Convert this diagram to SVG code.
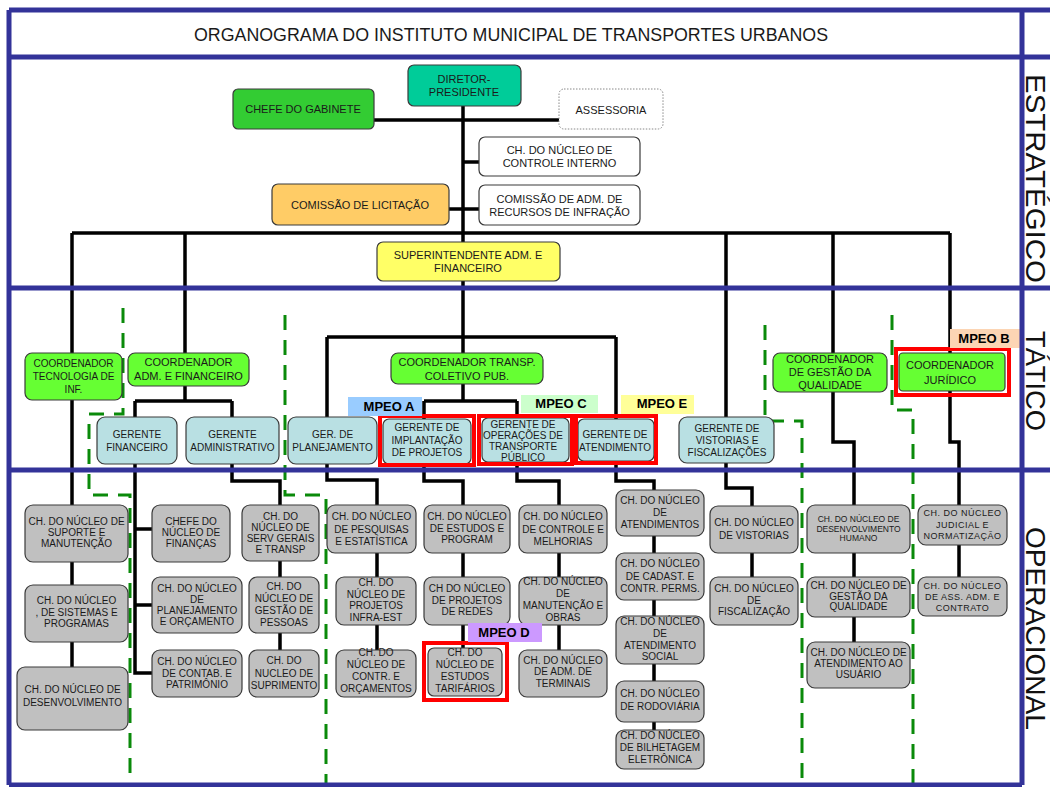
<svg xmlns="http://www.w3.org/2000/svg" width="1050" height="787" viewBox="0 0 1050 787">
<style>
text{font-family:"Liberation Sans",Arial,sans-serif;fill:#1a1a1a;text-anchor:middle}
.f11{font-size:11px}
.f10{font-size:10px}
.f9{font-size:9px;letter-spacing:0.5px}
.f85{font-size:8.5px}
.box{stroke:#3a3a3a;stroke-width:1.2}
.op{fill:#c0c0c0}
.gr{fill:#b9e0e3}
.co{fill:#66ff33}
.wh{fill:#fff}
.hl{fill:none;stroke:#ff0000;stroke-width:4}
.tag{font-size:13px;font-weight:bold;fill:#000}
.conn path{fill:none;stroke:#000;stroke-width:3.5}
.dash path{fill:none;stroke:#0a8a0a;stroke-width:3;stroke-dasharray:15 10}
.frame path{fill:none;stroke:#333399;stroke-width:5}
.side{font-size:27px;text-anchor:start;fill:#111}
</style>
<rect width="1050" height="787" fill="#fff"/>

<!-- reporting lines -->
<g id="connectors" class="conn">
<path d="M463,106V401"/>
<path d="M374,120H559"/>
<path d="M463,162H479"/>
<path d="M449,209H479"/>
<path d="M72,233H950"/>
<path d="M72,233V667"/>
<path d="M185,233V401M135,401H232M135,401V673H152M135,529H152M135,605H152"/>
<path d="M232,401V481H280V650"/>
<path d="M327,337H616"/>
<path d="M327,337V480H377V650"/>
<path d="M424,401H517"/>
<path d="M424,401V481H463V648"/>
<path d="M517,401V481H559V650"/>
<path d="M616,337V481H654V730"/>
<path d="M726,233V488H752V577"/>
<path d="M833,233V442H854V642"/>
<path d="M950,233V442H959V577"/>
</g>

<!-- dashed area boundaries -->
<g id="dividers" class="dash">
<path d="M123,308V414H89V495H130V785"/>
<path d="M285,315V495H326V785"/>
<path d="M765,325V421H802V785"/>
<path d="M892,315V410H913V785"/>
</g>

<!-- strategic level -->
<g id="diretor-presidente"><rect class="box" x="408" y="65" width="113" height="41" rx="6" fill="#00cc99"/><text class="f11"><tspan x="464" y="83">DIRETOR-</tspan><tspan x="464" y="96">PRESIDENTE</tspan></text></g>
<g id="chefe-gabinete"><rect class="box" x="233" y="89" width="141" height="40" rx="5" fill="#33cc33"/><text class="f11" x="303" y="113">CHEFE DO GABINETE</text></g>
<g id="assessoria"><rect x="559" y="89" width="104" height="40" rx="5" fill="#fff" stroke="#888" stroke-width="1" stroke-dasharray="1.5 1.5"/><text class="f11" x="611" y="114">ASSESSORIA</text></g>
<g id="controle-interno"><rect class="box wh" x="479" y="137" width="161" height="39" rx="6"/><text class="f11"><tspan x="559.5" y="154">CH. DO NÚCLEO DE</tspan><tspan x="559.5" y="167">CONTROLE INTERNO</tspan></text></g>
<g id="comissao-recursos"><rect class="box wh" x="479" y="185" width="161" height="40" rx="6"/><text class="f11"><tspan x="559.5" y="203">COMISSÃO DE ADM. DE</tspan><tspan x="559.5" y="216">RECURSOS DE INFRAÇÃO</tspan></text></g>
<g id="comissao-licitacao"><rect class="box" x="272" y="184" width="177" height="41" rx="6" fill="#ffcc66"/><text class="f11" x="360" y="209">COMISSÃO DE LICITAÇÃO</text></g>
<g id="superintendente"><rect class="box" x="377" y="242" width="183" height="39" rx="6" fill="#ffff66"/><text class="f11"><tspan x="468" y="259">SUPERINTENDENTE ADM. E</tspan><tspan x="468" y="272">FINANCEIRO</tspan></text></g>

<!-- tactical level -->
<g id="coord-tecnologia"><rect class="box co" x="25" y="353" width="97" height="47" rx="7"/><text class="f10"><tspan x="73.5" y="367">COORDENADOR</tspan><tspan x="73.5" y="380">TECNOLOGIA DE</tspan><tspan x="73.5" y="393">INF.</tspan></text></g>
<g id="coord-adm-fin"><rect class="box co" x="128" y="353" width="121" height="33" rx="7"/><text class="f11"><tspan x="188.5" y="366">COORDENADOR</tspan><tspan x="188.5" y="380">ADM. E FINANCEIRO</tspan></text></g>
<g id="coord-transporte"><rect class="box co" x="391" y="353" width="152" height="31" rx="7"/><text class="f11"><tspan x="467" y="366">COORDENADOR TRANSP.</tspan><tspan x="467" y="380">COLETIVO PUB.</tspan></text></g>
<g id="coord-qualidade"><rect class="box co" x="773" y="353" width="114" height="39" rx="7"/><text class="f11"><tspan x="830" y="363">COORDENADOR</tspan><tspan x="830" y="376">DE GESTÃO DA</tspan><tspan x="830" y="389">QUALIDADE</tspan></text></g>
<g id="coord-juridico"><rect class="box co" x="899" y="353" width="106" height="38" rx="4"/><rect class="hl" x="896" y="349" width="113" height="46"/><text class="f11"><tspan x="950" y="369">COORDENADOR</tspan><tspan x="950" y="384">JURÍDICO</tspan></text></g>

<g id="gerente-financeiro"><rect class="box gr" x="97" y="417" width="80" height="47" rx="8"/><text class="f10"><tspan x="137" y="438">GERENTE</tspan><tspan x="137" y="451">FINANCEIRO</tspan></text></g>
<g id="gerente-administrativo"><rect class="box gr" x="186" y="417" width="93" height="47" rx="8"/><text class="f10"><tspan x="232.5" y="438">GERENTE</tspan><tspan x="232.5" y="451">ADMINISTRATIVO</tspan></text></g>
<g id="ger-planejamento"><rect class="box gr" x="288" y="417" width="89" height="47" rx="8"/><text class="f10"><tspan x="332.5" y="438">GER. DE</tspan><tspan x="332.5" y="451">PLANEJAMENTO</tspan></text></g>
<g id="gerente-implantacao"><rect class="box gr" x="383" y="419" width="88" height="45" rx="6"/><rect class="hl" x="380" y="416" width="94" height="49"/><text class="f10"><tspan x="427" y="431">GERENTE DE</tspan><tspan x="427" y="444">IMPLANTAÇÃO</tspan><tspan x="427" y="456">DE PROJETOS</tspan></text></g>
<g id="gerente-operacoes"><rect class="box gr" x="482" y="418" width="87" height="44" rx="6"/><rect class="hl" x="479" y="416" width="93" height="48"/><text class="f10"><tspan x="523" y="428">GERENTE DE</tspan><tspan x="523" y="439">OPERAÇÕES DE</tspan><tspan x="523" y="450">TRANSPORTE</tspan><tspan x="523" y="461">PÚBLICO</tspan></text></g>
<g id="gerente-atendimento"><rect class="box gr" x="578" y="419" width="76" height="42" rx="6"/><rect class="hl" x="576" y="416" width="80" height="47"/><text class="f10"><tspan x="615" y="438">GERENTE DE</tspan><tspan x="615" y="451">ATENDIMENTO</tspan></text></g>
<g id="gerente-vistorias"><rect class="box gr" x="679" y="417" width="95" height="46" rx="8"/><text class="f10"><tspan x="727" y="432">GERENTE DE</tspan><tspan x="727" y="444">VISTORIAS E</tspan><tspan x="727" y="456">FISCALIZAÇÕES</tspan></text></g>

<!-- operational level -->
<g id="nucleo-suporte"><rect class="box op" x="25" y="505" width="103" height="57" rx="8"/><text class="f10"><tspan x="76.5" y="525">CH. DO NÚCLEO DE</tspan><tspan x="76.5" y="536">SUPORTE E</tspan><tspan x="76.5" y="547">MANUTENÇÃO</tspan></text></g>
<g id="nucleo-sistemas"><rect class="box op" x="25" y="585" width="103" height="57" rx="8"/><text class="f10"><tspan x="76.5" y="604">CH. DO NÚCLEO</tspan><tspan x="76.5" y="616">, DE SISTEMAS E</tspan><tspan x="76.5" y="627">PROGRAMAS</tspan></text></g>
<g id="nucleo-desenvolvimento"><rect class="box op" x="17" y="667" width="111" height="63" rx="8"/><text class="f10"><tspan x="72.5" y="693">CH. DO NÚCLEO DE</tspan><tspan x="72.5" y="706">DESENVOLVIMENTO</tspan></text></g>

<g id="nucleo-financas"><rect class="box op" x="152" y="505" width="78" height="57" rx="8"/><text class="f10"><tspan x="191" y="525">CHEFE DO</tspan><tspan x="191" y="536">NÚCLEO DE</tspan><tspan x="191" y="547">FINANÇAS</tspan></text></g>
<g id="nucleo-planejamento"><rect class="box op" x="152" y="577" width="90" height="56" rx="8"/><text class="f10"><tspan x="197" y="592">CH. DO NÚCLEO</tspan><tspan x="197" y="603">DE</tspan><tspan x="197" y="614">PLANEJAMENTO</tspan><tspan x="197" y="625">E ORÇAMENTO</tspan></text></g>
<g id="nucleo-contabilidade"><rect class="box op" x="152" y="650" width="90" height="47" rx="8"/><text class="f10"><tspan x="197" y="665">CH. DO NÚCLEO</tspan><tspan x="197" y="677">DE CONTAB. E</tspan><tspan x="197" y="688">PATRIMÔNIO</tspan></text></g>

<g id="nucleo-servicos"><rect class="box op" x="242" y="505" width="77" height="56" rx="8"/><text class="f10"><tspan x="280.5" y="520">CH. DO</tspan><tspan x="280.5" y="531">NÚCLEO DE</tspan><tspan x="280.5" y="542">SERV GERAIS</tspan><tspan x="280.5" y="553">E TRANSP</tspan></text></g>
<g id="nucleo-pessoas"><rect class="box op" x="249" y="577" width="70" height="56" rx="8"/><text class="f10"><tspan x="284" y="590">CH. DO</tspan><tspan x="284" y="602">NÚCLEO DE</tspan><tspan x="284" y="614">GESTÃO DE</tspan><tspan x="284" y="626">PESSOAS</tspan></text></g>
<g id="nucleo-suprimento"><rect class="box op" x="249" y="650" width="70" height="47" rx="8"/><text class="f10"><tspan x="284" y="664">CH. DO</tspan><tspan x="284" y="677">NUCLEO DE</tspan><tspan x="284" y="689">SUPRIMENTO</tspan></text></g>

<g id="nucleo-pesquisas"><rect class="box op" x="327" y="505" width="89" height="48" rx="8"/><text class="f10"><tspan x="371.5" y="520">CH. DO NÚCLEO</tspan><tspan x="371.5" y="533">DE PESQUISAS</tspan><tspan x="371.5" y="545">E ESTATÍSTICA</tspan></text></g>
<g id="nucleo-infraestrutura"><rect class="box op" x="336" y="577" width="80" height="48" rx="8"/><text class="f10"><tspan x="376" y="586">CH. DO</tspan><tspan x="376" y="598">NÚCLEO DE</tspan><tspan x="376" y="609">PROJETOS</tspan><tspan x="376" y="621">INFRA-EST</tspan></text></g>
<g id="nucleo-orcamentos"><rect class="box op" x="336" y="650" width="80" height="47" rx="8"/><text class="f10"><tspan x="376" y="656">CH. DO</tspan><tspan x="376" y="668">NÚCLEO DE</tspan><tspan x="376" y="680">CONTR. E</tspan><tspan x="376" y="692">ORÇAMENTOS</tspan></text></g>

<g id="nucleo-estudos"><rect class="box op" x="424" y="505" width="86" height="48" rx="8"/><text class="f10"><tspan x="467" y="520">CH. DO NÚCLEO</tspan><tspan x="467" y="532">DE ESTUDOS E</tspan><tspan x="467" y="543">PROGRAM</tspan></text></g>
<g id="nucleo-redes"><rect class="box op" x="424" y="577" width="86" height="48" rx="8"/><text class="f10"><tspan x="467" y="592">CH DO NÚCLEO</tspan><tspan x="467" y="604">DE PROJETOS</tspan><tspan x="467" y="615">DE REDES</tspan></text></g>
<g id="nucleo-tarifarios"><rect class="box op" x="428" y="648" width="74" height="48" rx="6"/><rect class="hl" x="424" y="643" width="83" height="57"/><text class="f10"><tspan x="465" y="656">CH. DO</tspan><tspan x="465" y="668">NÚCLEO DE</tspan><tspan x="465" y="680">ESTUDOS</tspan><tspan x="465" y="692">TARIFÁRIOS</tspan></text></g>

<g id="nucleo-melhorias"><rect class="box op" x="519" y="505" width="88" height="48" rx="8"/><text class="f10"><tspan x="563" y="520">CH. DO NÚCLEO</tspan><tspan x="563" y="533">DE CONTROLE E</tspan><tspan x="563" y="545">MELHORIAS</tspan></text></g>
<g id="nucleo-obras"><rect class="box op" x="519" y="577" width="88" height="48" rx="8"/><text class="f10"><tspan x="563" y="585">CH. DO NÚCLEO</tspan><tspan x="563" y="597">DE</tspan><tspan x="563" y="609">MANUTENÇÃO E</tspan><tspan x="563" y="621">OBRAS</tspan></text></g>
<g id="nucleo-terminais"><rect class="box op" x="519" y="650" width="88" height="47" rx="8"/><text class="f10"><tspan x="563" y="664">CH. DO NÚCLEO</tspan><tspan x="563" y="675">DE ADM. DE</tspan><tspan x="563" y="687">TERMINAIS</tspan></text></g>

<g id="nucleo-atendimentos"><rect class="box op" x="616" y="490" width="88" height="46" rx="8"/><text class="f10"><tspan x="660" y="504">CH. DO NÚCLEO</tspan><tspan x="660" y="516">DE</tspan><tspan x="660" y="528">ATENDIMENTOS</tspan></text></g>
<g id="nucleo-cadastro"><rect class="box op" x="616" y="553" width="88" height="47" rx="8"/><text class="f10"><tspan x="660" y="567">CH. DO NÚCLEO</tspan><tspan x="660" y="580">DE CADAST. E</tspan><tspan x="660" y="592">CONTR. PERMS.</tspan></text></g>
<g id="nucleo-social"><rect class="box op" x="616" y="616" width="88" height="48" rx="8"/><text class="f10"><tspan x="660" y="625">CH. DO NÚCLEO</tspan><tspan x="660" y="637">DE</tspan><tspan x="660" y="649">ATENDIMENTO</tspan><tspan x="660" y="660">SOCIAL</tspan></text></g>
<g id="nucleo-rodoviaria"><rect class="box op" x="616" y="681" width="88" height="41" rx="8"/><text class="f10"><tspan x="660" y="697">CH. DO NÚCLEO</tspan><tspan x="660" y="710">DE RODOVIÁRIA</tspan></text></g>
<g id="nucleo-bilhetagem"><rect class="box op" x="616" y="730" width="88" height="39" rx="8"/><text class="f10"><tspan x="660" y="739">CH. DO NÚCLEO</tspan><tspan x="660" y="751">DE BILHETAGEM</tspan><tspan x="660" y="763">ELETRÔNICA</tspan></text></g>

<g id="nucleo-vistorias"><rect class="box op" x="710" y="506" width="88" height="47" rx="8"/><text class="f10"><tspan x="754" y="526">CH. DO NÚCLEO</tspan><tspan x="754" y="539">DE VISTORIAS</tspan></text></g>
<g id="nucleo-fiscalizacao"><rect class="box op" x="710" y="577" width="88" height="48" rx="8"/><text class="f10"><tspan x="754" y="592">CH. DO NÚCLEO</tspan><tspan x="754" y="604">DE</tspan><tspan x="754" y="615">FISCALIZAÇÃO</tspan></text></g>

<g id="nucleo-desenv-humano"><rect class="box op" x="807" y="505" width="103" height="48" rx="8"/><text class="f85"><tspan x="858.5" y="522">CH. DO NÚCLEO DE</tspan><tspan x="858.5" y="532">DESENVOLVIMENTO</tspan><tspan x="858.5" y="541">HUMANO</tspan></text></g>
<g id="nucleo-gestao-qualidade"><rect class="box op" x="807" y="577" width="103" height="40" rx="8"/><text class="f10"><tspan x="858.5" y="589">CH. DO NÚCLEO DE</tspan><tspan x="858.5" y="600">GESTÃO DA</tspan><tspan x="858.5" y="610">QUALIDADE</tspan></text></g>
<g id="nucleo-usuario"><rect class="box op" x="807" y="642" width="103" height="46" rx="8"/><text class="f10"><tspan x="858.5" y="656">CH. DO NÚCLEO DE</tspan><tspan x="858.5" y="667">ATENDIMENTO AO</tspan><tspan x="858.5" y="678">USUÁRIO</tspan></text></g>

<g id="nucleo-judicial"><rect class="box op" x="918" y="505" width="89" height="40" rx="8"/><text class="f9"><tspan x="962.5" y="516">CH. DO NÚCLEO</tspan><tspan x="962.5" y="528">JUDICIAL E</tspan><tspan x="962.5" y="539">NORMATIZAÇÃO</tspan></text></g>
<g id="nucleo-contratos"><rect class="box op" x="918" y="577" width="89" height="39" rx="8"/><text class="f9"><tspan x="962.5" y="589">CH. DO NÚCLEO</tspan><tspan x="962.5" y="600">DE ASS. ADM. E</tspan><tspan x="962.5" y="611">CONTRATO</tspan></text></g>

<!-- MPEO tags -->
<g id="tag-mpeo-a"><rect x="348" y="397" width="74" height="19" fill="#99ccff"/><text class="tag" x="389" y="411">MPEO A</text></g>
<g id="tag-mpeo-b"><rect x="950" y="329" width="71" height="19" fill="#fcd5b4"/><text class="tag" x="984" y="343">MPEO B</text></g>
<g id="tag-mpeo-c"><rect x="521" y="395" width="77" height="18" fill="#ccffcc"/><text class="tag" x="561" y="408">MPEO C</text></g>
<g id="tag-mpeo-d"><rect x="468" y="623" width="74" height="19" fill="#cc99ff"/><text class="tag" x="504" y="637">MPEO D</text></g>
<g id="tag-mpeo-e"><rect x="621" y="395" width="73" height="19" fill="#ffff99"/><text class="tag" x="662" y="408">MPEO E</text></g>

<!-- frame and level bands -->
<g id="frame" class="frame">
<path d="M9,10H1050M9,57H1050M9,288H1050M9,470H1050M9,785H1022M9,10V785M1022,10V785"/>
</g>
<text id="title" x="511" y="41" font-size="18" textLength="634" lengthAdjust="spacingAndGlyphs">ORGANOGRAMA DO INSTITUTO MUNICIPAL DE TRANSPORTES URBANOS</text>
<text class="side" transform="translate(1026,74) rotate(90)" textLength="209" lengthAdjust="spacingAndGlyphs">ESTRATÉGICO</text>
<text class="side" transform="translate(1026,331) rotate(90)" textLength="100" lengthAdjust="spacingAndGlyphs">TÁTICO</text>
<text class="side" transform="translate(1026,527) rotate(90)" textLength="203" lengthAdjust="spacingAndGlyphs">OPERACIONAL</text>
</svg>
